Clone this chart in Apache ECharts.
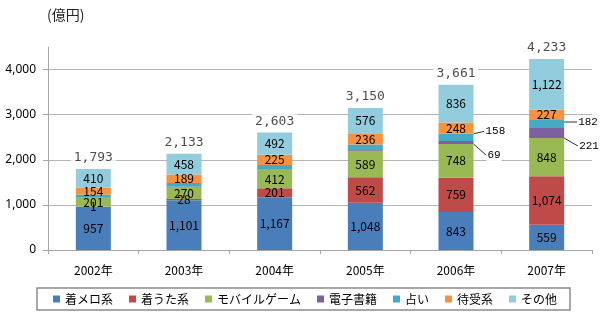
<!DOCTYPE html>
<html>
<head>
<meta charset="utf-8">
<script src="https://cdn.jsdelivr.net/npm/echarts@6/dist/echarts.min.js"></script>
<style>html,body{margin:0;padding:0;background:#fff}#c{width:600px;height:325px}</style>
</head>
<body>
<div id="c"></div>
<script>
const categories = ['2002年', '2003年', '2004年', '2005年', '2006年', '2007年'];
const chakumelo = [957, 1101, 1167, 1048, 843, 559];
const chakuuta = [1, 28, 201, 562, 759, 1074];
const mobileGame = [201, 270, 412, 589, 748, 848];
const ebook = [2, 10, 12, 20, 69, 221];
const uranai = [68, 77, 94, 119, 158, 182];
const machiuke = [154, 189, 225, 236, 248, 227];
const other = [410, 458, 492, 576, 836, 1122];
const totals = [1793, 2133, 2603, 3150, 3661, 4233];
const yTicks = [0, 1000, 2000, 3000, 4000];

const seriesNames = ['着メロ系', '着うた系', 'モバイルゲーム', '電子書籍', '占い', '待受系', 'その他'];
const seriesData = [chakumelo, chakuuta, mobileGame, ebook, uranai, machiuke, other];
const colors = ['#4A7EBB', '#BE4B48', '#98B954', '#7D60A0', '#46AAC5', '#F69240', '#93CDDD'];

const fmt = v => String(v).replace(/\B(?=(\d{3})+(?!\d))/g, ',');
const JP = '"Noto Sans CJK JP", "Noto Sans", sans-serif';

// outside-label offsets (style): [dx from bar right edge, dy from segment centre]
const outside = { 3: { 4: [13, 13], 5: [14, 13] }, 4: { 4: [11, -6], 5: [13, -2] } };

const series = seriesNames.map((name, si) => {
  const small = si === 3 || si === 4;
  return {
    name: name,
    type: 'bar',
    stack: 'total',
    barWidth: 35,
    itemStyle: { color: colors[si] },
    label: {
      show: true, position: 'inside', fontSize: 12, color: '#000', fontFamily: JP,
      formatter: p => fmt(p.value)
    },
    labelLine: { show: false, lineStyle: { color: '#333', width: 1 } },
    labelLayout: small ? function (p) {
      const o = outside[si][p.dataIndex];
      if (!o) return {};
      return {
        x: p.rect.x + p.rect.width + o[0],
        y: p.rect.y + p.rect.height / 2 + o[1],
        align: 'left', verticalAlign: 'middle'
      };
    } : undefined,
    data: seriesData[si].map((v, i) => {
      if (!small) return v;
      if (!outside[si][i]) return { value: v, label: { show: false } };
      return {
        value: v,
        label: { show: true, position: 'right', fontSize: 11, fontFamily: '"Liberation Mono", monospace',
                 color: '#000', backgroundColor: '#fff', padding: [0, 1] },
        labelLine: { show: true, lineStyle: { color: '#333', width: 1 } }
      };
    })
  };
});

series.push({
  name: 'total',
  type: 'scatter',
  data: totals,
  symbolSize: 1,
  itemStyle: { color: 'rgba(0,0,0,0)' },
  silent: true,
  z: 5,
  label: {
    show: true, position: 'top', distance: 3,
    fontFamily: '"DejaVu Sans Mono", monospace', fontSize: 13, color: '#222',
    backgroundColor: '#fff', padding: [1, 3],
    formatter: p => fmt(p.value)
  }
});

const chart = echarts.init(document.getElementById('c'), null, { renderer: 'canvas' });
chart.setOption({
  animation: false,
  backgroundColor: '#fff',
  title: {
    text: '(億円)', left: 42, top: 3,
    textStyle: { fontFamily: JP, fontSize: 14, fontWeight: 'normal', color: '#222' }
  },
  grid: { left: 48, right: 8, top: 47, bottom: 75 },
  legend: {
    data: seriesNames,
    left: 37, top: 288,
    padding: [5, 13, 5, 16],
    itemGap: 16, itemWidth: 7, itemHeight: 7, icon: 'rect',
    borderColor: '#8c8c8c', borderWidth: 1.5,
    textStyle: { fontFamily: JP, fontSize: 12, color: '#000' }
  },
  xAxis: {
    type: 'category', data: categories,
    axisLine: { lineStyle: { color: '#a6a6a6', width: 1 } },
    axisTick: { show: true, length: 4, lineStyle: { color: '#a6a6a6' } },
    axisLabel: { fontFamily: JP, fontSize: 12, color: '#000', margin: 14 }
  },
  yAxis: {
    type: 'value', min: yTicks[0], max: 4500, interval: 1000,
    axisLine: { show: true, lineStyle: { color: '#a6a6a6', width: 1 } },
    axisTick: { show: true, length: 5, lineStyle: { color: '#a6a6a6' } },
    axisLabel: { fontFamily: '"Noto Sans", sans-serif', fontSize: 12, color: '#000', margin: 12,
                 showMaxLabel: false, formatter: v => (yTicks.indexOf(v) >= 0 ? fmt(v) : '') },
    splitLine: { show: true, lineStyle: { color: ['#b5b5b5', '#b5b5b5', '#b5b5b5', '#b5b5b5', '#b5b5b5', 'rgba(0,0,0,0)'], width: 1 } }
  },
  series: series
});
</script>
</body>
</html>
